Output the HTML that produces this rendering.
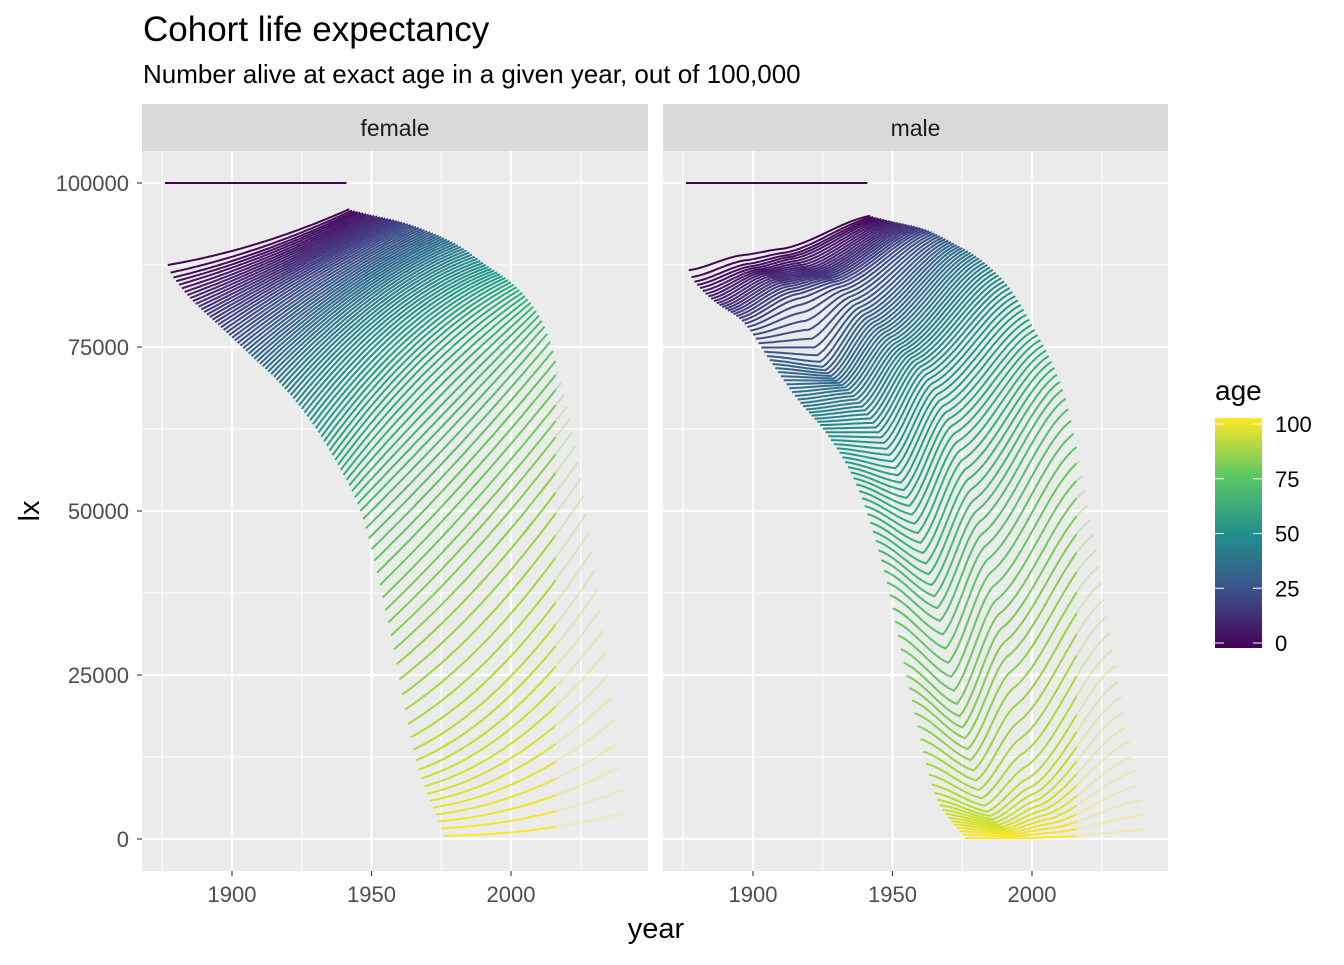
<!DOCTYPE html>
<html><head><meta charset="utf-8"><style>
body{margin:0;background:#fff;font-family:"Liberation Sans",sans-serif}
svg text{font-family:"Liberation Sans",sans-serif}
</style></head><body>
<svg id="chart" width="1344" height="960" xmlns="http://www.w3.org/2000/svg">
<rect width="1344" height="960" fill="#fff"/>
<text x="143" y="41" font-size="35" fill="#000">Cohort life expectancy</text>
<text x="143" y="83" font-size="26" fill="#000">Number alive at exact age in a given year, out of 100,000</text>
<text x="656" y="938" font-size="29" text-anchor="middle" fill="#000">year</text>
<text transform="translate(39,511) rotate(-90)" font-size="29" text-anchor="middle" fill="#000">lx</text>
<g id="panels"></g>
<text x="1215" y="400" font-size="28" fill="#000">age</text>
<defs><linearGradient id="vir" x1="0" y1="1" x2="0" y2="0">
<stop offset="0" stop-color="#440154"/><stop offset="0.25" stop-color="#3B528B"/><stop offset="0.5" stop-color="#21908C"/><stop offset="0.75" stop-color="#5DC863"/><stop offset="1" stop-color="#FDE725"/></linearGradient></defs>
<rect x="1215" y="418" width="47" height="230" fill="url(#vir)"/>
<g id="legend"></g>
</svg>
<script>
const femaleCohorts=[1876,1910,1941];
const maleCohorts=[1876,1895,1910,1941];
const ageKnots=[0,1,5,10,20,30,40,50,60,70,80,90,100];
const femaleLx1876=[100000,87500,84500,82000,78000,74000,70000,65000,58500,50000,33000,12000,500];
const femaleLx1910=[100000,91000,89500,88500,87000,85000,83000,80000,75000,65000,48000,22000,1500];
const femaleLx1941=[100000,96000,95500,95000,94000,92500,90500,87500,84500,79000,64000,38000,4000];
const maleLx1876=[100000,86700,84000,82000,79000,73000,67000,62000,55000,42500,23000,6000,100];
const maleLx1895=[100000,89000,87000,86000,83000,72000,68000,62000,52000,37000,17000,3500,100];
const maleLx1910=[100000,90000,88500,87000,85000,80000,76000,72000,64000,50000,30000,8000,300];
const maleLx1941=[100000,95000,94500,94000,93000,91000,88500,84500,77600,68500,48600,24000,1400];
const xTicks=[1900,1950,2000];
const yTicks=[0,25000,50000,75000,100000];
const legendTicks=[0,25,50,75,100];
const lastObservedYear=2016;
const panels=[
 {name:'female',x0:142,x1:648,x1900:232,cohorts:femaleCohorts,quad:true,data:[femaleLx1876,femaleLx1910,femaleLx1941]},
 {name:'male',x0:663,x1:1168,x1900:753,cohorts:maleCohorts,quad:false,data:[maleLx1876,maleLx1895,maleLx1910,maleLx1941]}];
const NS='http://www.w3.org/2000/svg';
const y0=871,yTop=151;
function ys(v){return 839-v*656/100000;}
function vir(t){const s=[[68,1,84],[72,40,120],[62,73,137],[49,104,142],[38,130,142],[31,158,137],[53,183,121],[109,205,89],[180,222,44],[253,231,37]];
 const p=t*(s.length-1),i=Math.min(Math.floor(p),s.length-2),f=p-i;
 return 'rgb('+s[i].map((c,k)=>Math.round(c+(s[i+1][k]-c)*f)).join(',')+')';}
function mk(tag,attrs,parent){const e=document.createElementNS(NS,tag);for(const k in attrs)e.setAttribute(k,attrs[k]);parent.appendChild(e);return e;}
function lxAt(arr,age){
 const n=ageKnots.length;
 for(let i=0;i<n-1;i++){if(age<=ageKnots[i+1]){
  const x0=ageKnots[i],x1=ageKnots[i+1],h=x1-x0,t=(age-x0)/h;
  const sl=j=>{if(j<=0)return (arr[1]-arr[0])/(ageKnots[1]-ageKnots[0]);if(j>=n-1)return (arr[n-1]-arr[n-2])/(ageKnots[n-1]-ageKnots[n-2]);
   const a=(arr[j]-arr[j-1])/(ageKnots[j]-ageKnots[j-1]),b=(arr[j+1]-arr[j])/(ageKnots[j+1]-ageKnots[j]);return a*b<=0?0:2*a*b/(a+b);};
  const m0=i===0?0:sl(i),m1=sl(i+1);
  const h00=2*t*t*t-3*t*t+1,h10=t*t*t-2*t*t+t,h01=-2*t*t*t+3*t*t,h11=t*t*t-t*t;
  return h00*arr[i]+h10*h*m0+h01*arr[i+1]+h11*h*m1;}}
 return arr[n-1];}
function lxCohort(p,c,age){
 const cs=p.cohorts,data=p.data;
 if(p.quad){const a=lxAt(data[0],age),b=lxAt(data[1],age),d=lxAt(data[2],age);const [c0,c1,c2]=cs;
  return a*(c-c1)*(c-c2)/((c0-c1)*(c0-c2))+b*(c-c0)*(c-c2)/((c1-c0)*(c1-c2))+d*(c-c0)*(c-c1)/((c2-c0)*(c2-c1));}
 for(let i=0;i<cs.length-1;i++){if(c<=cs[i+1]){
  const a=lxAt(data[i],age),b=lxAt(data[i+1],age),f=(c-cs[i])/(cs[i+1]-cs[i]);
  const s=f*f*(3-2*f)*0.5+f*0.5;
  return a+(b-a)*s;}}
 return lxAt(data[data.length-1],age);}
const G=document.getElementById('panels');
panels.forEach(p=>{
 const xs=y=>p.x1900+(y-1900)*2.79;
 const g=mk('g',{},G);
 
 
 mk('rect',{x:p.x0,y:yTop,width:p.x1-p.x0,height:y0-yTop,fill:'#EBEBEB'},g);
 [1875,1925,1975,2025].forEach(v=>mk('line',{x1:xs(v),x2:xs(v),y1:yTop,y2:y0,stroke:'#fff','stroke-width':1.1},g));
 [12500,37500,62500,87500].forEach(v=>mk('line',{x1:p.x0,x2:p.x1,y1:ys(v),y2:ys(v),stroke:'#fff','stroke-width':1.1},g));
 xTicks.forEach(v=>mk('line',{x1:xs(v),x2:xs(v),y1:yTop,y2:y0,stroke:'#fff','stroke-width':2.2},g));
 yTicks.forEach(v=>mk('line',{x1:p.x0,x2:p.x1,y1:ys(v),y2:ys(v),stroke:'#fff','stroke-width':2.2},g));
 const s=mk('rect',{x:p.x0,y:104,width:p.x1-p.x0,height:47,fill:'#D9D9D9'},g);
 
 
 const st=mk('text',{x:(p.x0+p.x1)/2,y:136,'font-size':23,'text-anchor':'middle',fill:'#1A1A1A'},g);st.textContent=p.name;
 
 
 xTicks.forEach(v=>{mk('line',{x1:xs(v),x2:xs(v),y1:y0,y2:y0+5,stroke:'#333','stroke-width':1.1},g);
  const t=mk('text',{x:xs(v),y:902,'font-size':22,'text-anchor':'middle',fill:'#4D4D4D'},g);t.textContent=v;
  
  });
 const lines=mk('g',{fill:'none','stroke-width':2,'stroke-linejoin':'round'},g);
 const cs=p.cohorts;
 for(let age=100;age>=0;age--){
  let obs=[],proj=[];
  for(let c=cs[0];c<=cs[cs.length-1];c++){
   const yr=c+age,v=Math.max(0,lxCohort(p,c,age)),pt=xs(yr).toFixed(1)+','+ys(v).toFixed(1);
   if(yr<=lastObservedYear)obs.push(pt);
   if(yr>=lastObservedYear)proj.push(pt);}
  const col=vir(age/100);
  if(proj.length>1){const pl=mk('polyline',{points:proj.join(' '),stroke:col,'stroke-opacity':0.3},lines);
   
   }
  if(obs.length>1){const pl=mk('polyline',{points:obs.join(' '),stroke:col},lines);
   
   }
 }
});
yTicks.forEach(v=>{mk('line',{x1:137,x2:142,y1:ys(v),y2:ys(v),stroke:'#333','stroke-width':1.1},G);
 const t=mk('text',{x:129,y:ys(v)+8,'font-size':22,'text-anchor':'end',fill:'#4D4D4D'},G);t.textContent=v;
 
 });
const L=document.getElementById('legend');
legendTicks.forEach(v=>{const y=643-v*2.19;
 mk('line',{x1:1215,x2:1224,y1:y,y2:y,stroke:'#fff','stroke-width':1},L);
 mk('line',{x1:1253,x2:1262,y1:y,y2:y,stroke:'#fff','stroke-width':1},L);
 const t=mk('text',{x:1275,y:y+8,'font-size':22,fill:'#000'},L);t.textContent=v;
 
 });
</script>
</body></html>
